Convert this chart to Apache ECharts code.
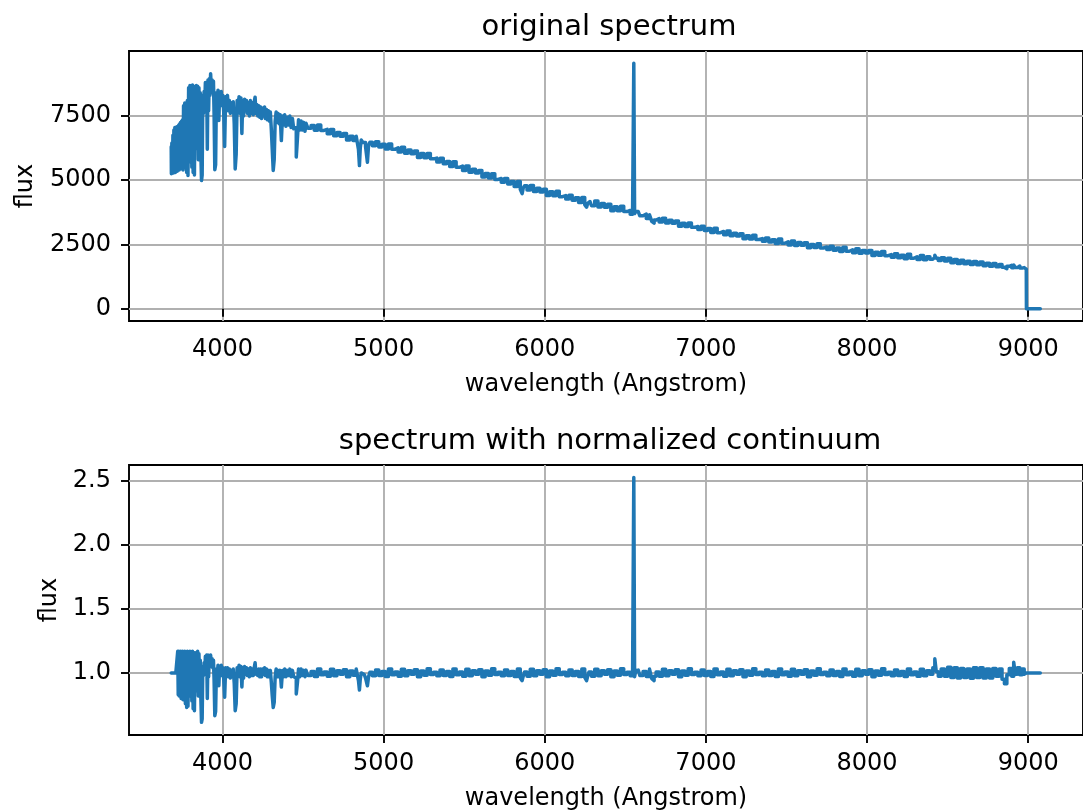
<!DOCTYPE html>
<html>
<head>
<meta charset="utf-8">
<script src="https://cdn.jsdelivr.net/npm/echarts@6/dist/echarts.min.js"></script>
<style>html,body{margin:0;padding:0;background:#fff}#c{width:1083px;height:812px}</style>
</head>
<body>
<div id="c"></div>
<script>
// ---- wavelength ticks / axis ticks ----
const xTicks = [4000, 5000, 6000, 7000, 8000, 9000];
const origTicks = [0, 2500, 5000, 7500];
const normTicks = [1.0, 1.5, 2.0, 2.5];

// ---- blue part of spectrum (3682-4516 A) ----
const waveBlue = [
3682,3684,3688,3691,3694,3697,3700,3703,3706,3709,
3712,3715,3718,3721,3724,3727,3730,3733,3736,3739,
3742,3745,3748,3751,3754,3757,3760,3764,3768,3772,
3776,3780,3784,3788,3792,3796,3800,3804,3808,3812,
3816,3820,3824,3828,3832,3836,3840,3844,3848,3852,
3856,3860,3864,3868,3872,3876,3880,3884,3888,3892,
3896,3900,3904,3908,3912,3916,3920,3924,3929,3934,
3938,3942,3946,3950,3955,3960,3965,3970,3975,3980,
3985,3990,3995,4000,4005,4010,4017,4022,4028,4034,
4040,4046,4052,4058,4064,4070,4076,4082,4088,4094,
4100,4106,4112,4118,4123,4128,4134,4140,4146,4152,
4158,4164,4170,4176,4182,4188,4194,4200,4205,4210,
4216,4222,4228,4234,4240,4246,4252,4258,4264,4270,
4276,4282,4288,4294,4300,4306,4312,4318,4324,4330,
4336,4342,4348,4354,4362,4369,4376,4382,4390,4398,
4406,4414,4422,4430,4438,4446,4454,4462,4468,4476,
4484,4492,4500,4508,4516];
const fluxBlue = [
6300,5250,6450,5300,6750,5280,6950,5350,7050,5300,
7000,5400,7080,5350,7100,5450,7150,5400,7200,5500,
7250,5450,7300,5600,7350,5400,7900,5700,8000,5500,
7950,5300,8100,5180,8600,5700,8680,6000,8650,5500,
8700,5300,8650,5200,8600,6200,8680,6500,8650,5800,
8600,6800,8400,6000,4990,5200,8300,7600,8450,7900,
8800,8100,8750,6200,8900,7700,8950,8300,9137,8500,
8900,8400,8850,7600,5404,5600,8400,8000,8500,7320,
8400,8100,8450,7900,8300,7700,6310,8250,7800,8300,
7700,8100,7600,8000,7700,8050,7200,5440,6000,8100,
7700,8250,7600,8200,6815,8100,7500,8150,7700,8100,
7600,8000,7500,8100,7600,8000,7550,8050,8230,7600,
7950,7500,7900,7450,7850,7400,7800,7500,7850,7400,
7750,7350,7700,7300,7650,7000,6200,5380,5800,7300,
7650,7250,7600,7200,7550,6540,7500,7150,7550,7100,
7450,7150,7500,7050,7400,7000,7050,5900,6600,7350,
6950,7300,6950,7250,6900];
const normBlue = [
1,1,1,1,1,1,1,1,1,1,
1,1,1,1,1.17,0.83,1.17,0.82,1.16,0.86,
1.17,0.80,1.15,0.84,1.17,0.79,1.16,0.82,1.17,0.76,
1.16,0.73,1.17,0.74,1.16,0.82,1.17,0.85,1.16,0.78,
1.17,0.72,1.16,0.705,1.15,0.86,1.16,0.90,1.17,0.82,
1.15,0.93,1.10,0.80,0.614,0.64,1.05,0.98,1.08,0.99,
1.13,1.02,1.14,0.80,1.14,0.97,1.12,1.05,1.14,1.06,
1.11,1.04,1.10,0.95,0.666,0.70,1.03,0.99,1.06,0.90,
1.05,1.00,1.06,0.98,1.04,0.96,0.81,1.04,0.98,1.04,
0.97,1.03,0.96,1.02,0.97,1.03,0.92,0.705,0.76,1.04,
0.98,1.06,0.97,1.05,0.89,1.04,0.96,1.05,0.99,1.04,
0.98,1.03,0.97,1.04,0.98,1.03,0.98,1.04,1.08,0.99,
1.03,0.98,1.03,0.97,1.03,0.97,1.03,0.99,1.04,0.98,
1.03,0.97,1.02,0.97,1.02,0.93,0.82,0.73,0.77,0.97,
1.03,0.97,1.02,0.97,1.02,0.89,1.02,0.97,1.03,0.97,
1.02,0.98,1.03,0.97,1.02,0.97,0.96,0.836,0.92,1.03,
0.97,1.03,0.98,1.02,0.97];

// ---- middle part (4520-6570 A, incl. H-alpha) ----
const waveMid = [
4520,4540,4560,4580,4600,4620,4640,4660,4680,4700,
4720,4740,4760,4780,4800,4820,4840,4848,4852,4858,
4864,4880,4896,4903,4910,4920,4940,4960,4980,5000,
5020,5040,5060,5080,5100,5120,5140,5160,5180,5200,
5220,5240,5260,5280,5300,5320,5340,5360,5380,5400,
5420,5440,5460,5480,5500,5520,5540,5560,5580,5600,
5620,5640,5660,5680,5700,5720,5740,5760,5780,5800,
5820,5840,5856,5863,5870,5880,5900,5920,5940,5960,
5980,6000,6020,6040,6060,6080,6100,6120,6140,6160,
6180,6200,6220,6240,6256,6263,6270,6280,6300,6320,
6340,6360,6380,6400,6420,6440,6460,6480,6500,6520,
6540,6550,6555,6560,6570];
const fluxMid = [
7216,7022,7128,6944,7150,6936,6976,6804,6972,6730,
6856,6712,6818,6564,6710,6546,6712,6200,5570,6250,
6560,6464,6300,5700,6350,6474,6338,6492,6296,6400,
6210,6410,6200,6260,6100,6278,6046,6174,6032,6140,
5888,6036,5874,6042,5830,5860,5710,5850,5640,5730,
5530,5720,5500,5550,5380,5550,5310,5430,5280,5380,
5120,5260,5090,5250,5030,5064,4918,5062,4856,4950,
4754,4948,4650,4480,4700,4786,4620,4796,4562,4688,
4544,4650,4402,4554,4396,4568,4360,4402,4264,4416,
4218,4320,4128,4326,4050,3950,4100,4172,4010,4190,
3960,4090,3950,4060,3814,3968,3812,3986,3780,3820,
3680,3800,9549,3700,3780];
const normMid = [
1.022,0.980,1.012,0.972,1.030,0.985,1.008,0.975,1.028,0.978,
1.018,0.990,1.025,0.970,1.015,0.982,1.030,0.940,0.867,0.950,
1.000,0.988,0.960,0.900,0.970,1.005,0.978,1.022,0.980,1.012,
0.972,1.030,0.985,1.008,0.975,1.028,0.978,1.018,0.990,1.025,
0.970,1.015,0.982,1.032,0.988,1.005,0.978,1.022,0.980,1.012,
0.972,1.030,0.985,1.008,0.975,1.028,0.978,1.018,0.990,1.025,
0.970,1.015,0.982,1.032,0.988,1.005,0.978,1.022,0.980,1.012,
0.972,1.030,0.960,0.940,0.975,1.008,0.975,1.028,0.978,1.018,
0.990,1.025,0.970,1.015,0.982,1.032,0.988,1.005,0.978,1.022,
0.980,1.012,0.972,1.030,0.965,0.940,0.975,1.008,0.975,1.028,
0.978,1.018,0.990,1.025,0.970,1.015,0.982,1.032,0.988,1.005,
0.978,1.000,2.528,0.970,1.020];

// ---- red part (6580-9075 A) ----
const waveRed = [
6580,6600,6620,6640,6660,6668,6675,6682,6700,6720,
6740,6760,6780,6800,6820,6840,6860,6880,6900,6920,
6940,6960,6980,7000,7020,7040,7060,7080,7100,7120,
7140,7160,7180,7200,7220,7240,7260,7280,7300,7320,
7340,7360,7380,7400,7420,7440,7460,7480,7500,7520,
7540,7560,7580,7600,7620,7640,7660,7680,7700,7720,
7740,7760,7780,7800,7820,7840,7860,7880,7900,7920,
7940,7960,7980,8000,8020,8040,8060,8080,8100,8120,
8140,8160,8180,8200,8220,8240,8260,8280,8300,8320,
8340,8360,8380,8400,8416,8425,8434,8450,8470,8490,
8510,8530,8550,8570,8590,8610,8630,8650,8670,8690,
8710,8730,8750,8770,8790,8810,8830,8845,8860,8875,
8890,8905,8915,8925,8940,8955,8970,8980,8988,8990,
9075];
const fluxRed = [
3780,3616,3680,3512,3656,3400,3330,3450,3504,3376,
3520,3336,3440,3328,3414,3212,3330,3200,3334,3166,
3198,3086,3206,3046,3124,2970,3128,2958,3004,2876,
3020,2836,2940,2828,2918,2720,2842,2716,2854,2692,
2730,2624,2750,2596,2684,2540,2708,2548,2604,2484,
2636,2460,2572,2468,2564,2372,2500,2380,2524,2364,
2404,2300,2428,2276,2366,2224,2394,2236,2294,2176,
2330,2156,2270,2168,2264,2072,2200,2080,2224,2066,
2108,2006,2136,1986,2080,1942,2116,1962,2024,1912,
2072,1904,2024,1928,2000,2080,1960,1880,1984,1856,
1968,1792,1920,1764,1884,1750,1850,1718,1842,1710,
1820,1670,1768,1650,1756,1638,1722,1610,1560,1650,
1690,1590,1700,1600,1660,1580,1600,1550,1540,0,
0];
const normRed = [
1.022,0.980,1.012,0.972,1.030,0.955,0.940,0.975,1.008,0.975,
1.028,0.978,1.018,0.990,1.025,0.970,1.015,0.982,1.032,0.988,
1.005,0.978,1.022,0.980,1.012,0.972,1.030,0.985,1.008,0.975,
1.028,0.978,1.018,0.990,1.025,0.970,1.015,0.982,1.032,0.988,
1.005,0.978,1.022,0.980,1.012,0.972,1.030,0.985,1.008,0.975,
1.028,0.978,1.018,0.990,1.025,0.970,1.015,0.982,1.032,0.988,
1.005,0.978,1.022,0.980,1.012,0.972,1.030,0.985,1.008,0.975,
1.028,0.978,1.018,0.990,1.025,0.970,1.015,0.982,1.032,0.988,
1.005,0.978,1.022,0.980,1.012,0.972,1.030,0.985,1.008,0.975,
1.028,0.978,1.018,0.990,1.040,1.110,1.010,0.975,1.030,0.975,
1.045,0.965,1.040,0.960,1.035,0.965,1.030,0.958,1.040,0.965,
1.040,0.960,1.030,0.960,1.035,0.975,1.030,0.950,0.916,0.985,
1.035,0.975,1.083,0.990,1.040,0.985,1.030,0.990,1.000,1.000,
1.000];

const wave = waveBlue.concat(waveMid, waveRed);
const flux = fluxBlue.concat(fluxMid, fluxRed);
const norm = normBlue.concat(normMid, normRed);
const origData = wave.map((w, i) => [w, flux[i]]);
const normData = wave.map((w, i) => [w, norm[i]]);

const FONT = 'DejaVu Sans';
const TXT = '#000';
const GRID = '#b0b0b0';
const BLUE = '#1f77b4';

function xAxisFor(idx) {
  return {
    type: 'value', gridIndex: idx, min: 3420, max: 9340,
    name: 'wavelength (Angstrom)', nameLocation: 'middle', nameGap: 52,
    nameTextStyle: {fontFamily: FONT, fontSize: 24, color: TXT},
    axisLine: {show: false},
    axisTick: {show: true, length: 8, customValues: xTicks, lineStyle: {color: '#000', width: 1.9}},
    axisLabel: {customValues: xTicks, fontFamily: FONT, fontSize: 24, color: TXT, margin: 17,
                formatter: v => String(v)},
    splitLine: {show: true, lineStyle: {color: GRID, width: 1.9}}
  };
}
function yAxisFor(idx, min, max, ticks, gap, fmt) {
  return {
    type: 'value', gridIndex: idx, min: min, max: max,
    name: 'flux', nameLocation: 'middle', nameGap: gap,
    nameTextStyle: {fontFamily: FONT, fontSize: 24, color: TXT},
    axisLine: {show: false},
    axisTick: {show: true, length: 8, customValues: ticks, lineStyle: {color: '#000', width: 1.9}},
    axisLabel: {customValues: ticks, fontFamily: FONT, fontSize: 24, color: TXT, margin: 18, formatter: fmt},
    splitLine: {show: true, lineStyle: {color: GRID, width: 1.9}}
  };
}

const chart = echarts.init(document.getElementById('c'), null, {renderer: 'canvas', width: 1083, height: 812});
chart.setOption({
  animation: false,
  backgroundColor: '#fff',
  title: [
    {text: 'original spectrum', left: 609, top: 13, padding: 0, textAlign: 'center',
     textStyle: {fontFamily: FONT, fontSize: 29, fontWeight: 'normal', color: TXT}},
    {text: 'spectrum with normalized continuum', left: 610, top: 427, padding: 0, textAlign: 'center',
     textStyle: {fontFamily: FONT, fontSize: 29, fontWeight: 'normal', color: TXT}}
  ],
  grid: [
    {left: 129, top: 51, width: 962, height: 270, show: true, borderColor: '#000', borderWidth: 1.9, backgroundColor: 'transparent'},
    {left: 129, top: 465, width: 962, height: 270, show: true, borderColor: '#000', borderWidth: 1.9, backgroundColor: 'transparent'}
  ],
  xAxis: [xAxisFor(0), xAxisFor(1)],
  yAxis: [
    yAxisFor(0, -477, 10026, origTicks, 91, v => String(v)),
    yAxisFor(1, 0.515, 2.625, normTicks, 67, v => v.toFixed(1))
  ],
  series: [
    {type: 'line', xAxisIndex: 0, yAxisIndex: 0, data: origData, symbol: 'none', showSymbol: false, step: 'middle',
     lineStyle: {color: BLUE, width: 3.5, join: 'round', cap: 'round'}, z: 3},
    {type: 'line', xAxisIndex: 1, yAxisIndex: 1, data: normData, symbol: 'none', showSymbol: false, step: 'middle',
     lineStyle: {color: BLUE, width: 3.5, join: 'round', cap: 'round'}, z: 3}
  ]
});
</script>
</body>
</html>
